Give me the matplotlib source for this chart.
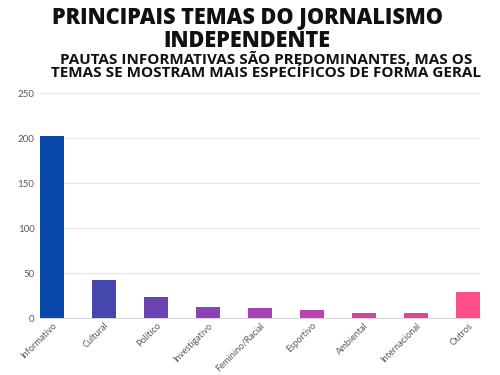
import matplotlib
matplotlib.use("Agg")
import matplotlib.pyplot as plt
import numpy as np

categorias = ['Informativo', 'Cultural', 'Político', 'Investigativo', 'Feminino/Racial',
              'Esportivo', 'Ambiental', 'Internacional', 'Outros']
valores = [203, 43, 24, 13, 12, 9, 6, 6, 29]
cores = ['#0747A9', '#4547AD', '#6C44B1', '#8C42B6', '#A542B4',
         '#BC42AD', '#D043A2', '#E14597', '#FF4F8B']
yticks = [0, 50, 100, 150, 200, 250]

fig = plt.figure(figsize=(5, 3.75), dpi=100)
ax = fig.add_axes([0.08, 0.151, 0.88, 0.6])

x = np.arange(len(categorias))
ax.bar(x, valores, width=0.46, color=cores, zorder=3)
ax.set_xlim(-0.23, len(categorias) - 1 + 0.23)
ax.set_ylim(0, 250)
ax.set_yticks(yticks)
ax.grid(axis='y', color='#e6e6e6', linewidth=0.8, zorder=0)
for s in ['top', 'right', 'left']:
    ax.spines[s].set_visible(False)
ax.spines['bottom'].set_color('#d9d9d9')
ax.tick_params(length=0, colors='#595959', labelsize=7)
ax.tick_params(axis='y', pad=4)
ax.tick_params(axis='x', pad=2)
ax.set_xticks(x)
ax.set_xticklabels(categorias, rotation=45, ha='right', rotation_mode='anchor',
                   fontfamily='Lato', fontsize=6.6)
for t in ax.get_yticklabels():
    t.set_fontfamily('Lato')

# titulos (va='baseline' alinha a ultima linha)
titulo = 'PRINCIPAIS TEMAS DO JORNALISMO\nINDEPENDENTE'
subtitulo = ('PAUTAS INFORMATIVAS SÃO PREDOMINANTES, MAS OS\n'
             'TEMAS SE MOSTRAM MAIS ESPECÍFICOS DE FORMA GERAL')
fig.text(0.494, 0.8747, titulo, ha='center', va='baseline', fontsize=15.6,
         fontweight='heavy', fontfamily='Open Sans', color='#111111',
         linespacing=0.96, multialignment='center')
fig.text(0.532, 0.7947, subtitulo, ha='center', va='baseline', fontsize=11,
         fontweight='bold', fontfamily='Open Sans', color='#111111',
         linespacing=0.95, multialignment='center')

fig.savefig('out.png', dpi=100)
